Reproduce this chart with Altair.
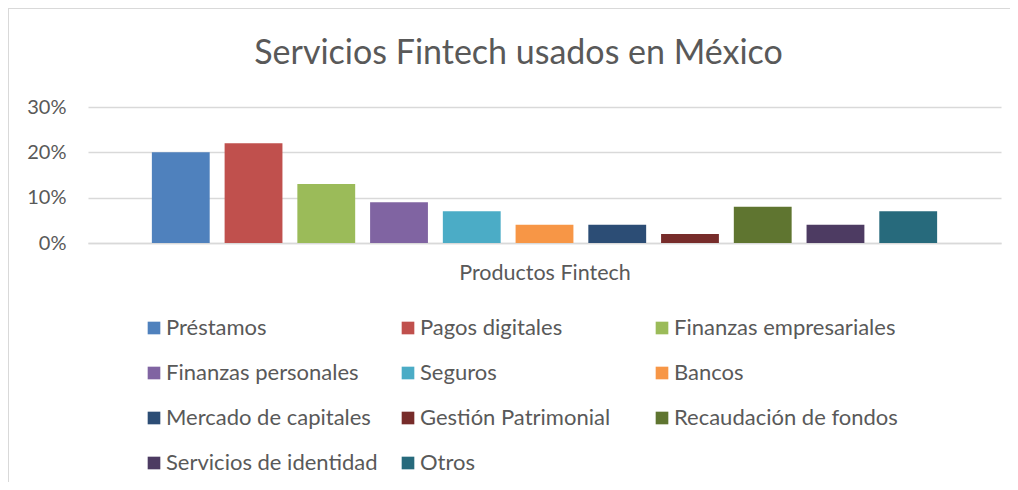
import altair as alt
import pandas as pd

categories = ["Préstamos", "Pagos digitales", "Finanzas empresariales", "Finanzas personales",
              "Seguros", "Bancos", "Mercado de capitales", "Gestión Patrimonial",
              "Recaudación de fondos", "Servicios de identidad", "Otros"]
values = [0.20, 0.22, 0.13, 0.09, 0.07, 0.04, 0.04, 0.02, 0.08, 0.04, 0.07]
colors = ["#4F81BD", "#C0504D", "#9BBB59", "#8064A2", "#4BACC6", "#F79646",
          "#2C4D75", "#772C2A", "#5F7530", "#4D3B62", "#276A7C"]
y_ticks = [0, 0.1, 0.2, 0.3]

df = pd.DataFrame({"Producto": categories, "Valor": values})

FONT = "Lato"
GRAY = "#595959"
BORDER = "#d9d9d9"

bars = alt.Chart(df).mark_bar().encode(
    x=alt.X("Producto:N", sort=categories,
            scale=alt.Scale(paddingInner=0.205, paddingOuter=0.878),
            axis=alt.Axis(title="Productos Fintech", labels=False, ticks=False,
                          domainColor="#d9d9d9", domainWidth=1.5,
                          titleFontSize=21.5, titleFont=FONT, titleColor=GRAY,
                          titleFontWeight="normal", titlePadding=19)),
    y=alt.Y("Valor:Q", scale=alt.Scale(domain=[0, 0.3]),
            axis=alt.Axis(title=None, values=y_ticks, format=".0%",
                          labelFontSize=20, labelFont=FONT, labelColor=GRAY,
                          labelPadding=22, ticks=False, domain=False,
                          gridColor="#d9d9d9", gridWidth=1.5)),
    color=alt.Color("Producto:N", sort=categories,
                    scale=alt.Scale(domain=categories, range=colors),
                    legend=alt.Legend(title=None, orient="none", legendX=55, legendY=210,
                                      columns=3, direction="horizontal", gridAlign="all",
                                      symbolType="square", symbolSize=160,
                                      symbolStrokeWidth=0,
                                      labelFontSize=22, labelFont=FONT, labelColor=GRAY,
                                      labelOffset=1, columnPadding=7, rowPadding=23,
                                      labelLimit=400)),
)

frame = pd.DataFrame({"k": [0]})
left_border = alt.Chart(frame).mark_rule(color=BORDER, strokeWidth=2).encode(
    x=alt.value(-80), y=alt.value(-99), y2=alt.value(400))
top_border = alt.Chart(frame).mark_rule(color=BORDER, strokeWidth=2).encode(
    x=alt.value(-81), x2=alt.value(940), y=alt.value(-99))

chart = alt.layer(bars, left_border, top_border).properties(
    width=913, height=136,
    title=alt.TitleParams("Servicios Fintech usados en México", fontSize=34, font=FONT,
                          color=GRAY, fontWeight="normal", anchor="middle",
                          dx=-26, offset=-64),
    autosize=alt.AutoSizeParams(type="none"),
    padding={"left": 80, "top": 99, "right": 9, "bottom": 239},
).configure_view(stroke=None)

chart.save("out.html", embed_options={"renderer": "svg", "actions": False})
